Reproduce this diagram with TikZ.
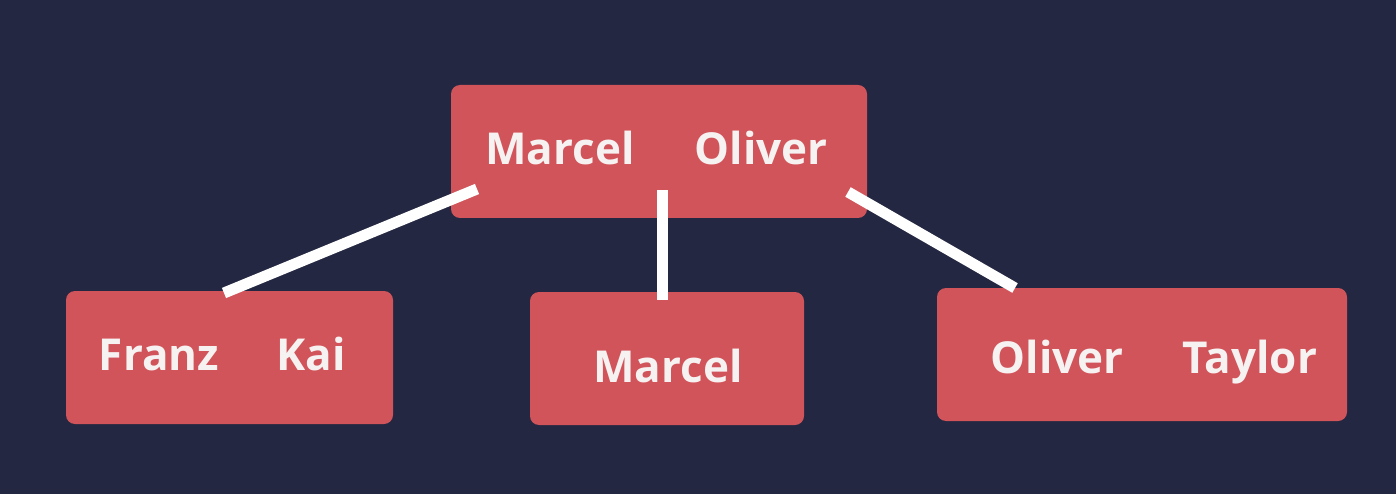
\documentclass[tikz,border=0pt]{standalone}
\usepackage{fontspec}
\setmainfont{Open Sans}
\definecolor{bgnavy}{HTML}{232741}
\definecolor{boxred}{HTML}{D1545A}
\definecolor{txtwhite}{HTML}{F7F2F2}
\tikzset{
  keybox/.style={fill=boxred, draw=none, rounded corners=9pt},
  keytext/.style={text=txtwhite, font=\fontsize{44}{44}\selectfont\bfseries, anchor=base, inner sep=0pt},
  edge/.style={draw=white, line width=11pt}
}
\begin{document}
\begin{tikzpicture}[x=1pt,y=-1pt]
\fill[bgnavy] (0,0) rectangle (1396,494);
\useasboundingbox (0,0) rectangle (1396,494);
% boxes
\node[keybox, minimum width=416pt, minimum height=133pt, inner sep=0pt] (root) at (659,151.5) {};
\node[keybox, minimum width=327pt, minimum height=133pt, inner sep=0pt] (left) at (229.5,357.5) {};
\node[keybox, minimum width=274pt, minimum height=133pt, inner sep=0pt] (mid) at (667,358.5) {};
\node[keybox, minimum width=410pt, minimum height=133pt, inner sep=0pt] (right) at (1142,354.5) {};
% texts
\node[keytext] (t1) at (560,165) {Marcel};
\node[keytext] (t2) at (761,165) {Oliver};
\node[keytext] (t3) at (159,370) {Franz};
\node[keytext] (t4) at (311,370) {Kai};
\node[keytext] (t5) at (668,382) {Marcel};
\node[keytext] (t6) at (1057,373) {Oliver};
\node[keytext] (t7) at (1250,373) {Taylor};
% connector ends
\coordinate (r1) at (477,189);
\coordinate (c1) at (224,293);
\coordinate (r2) at (662,190);
\coordinate (c2) at (662,300);
\coordinate (r3) at (848,192);
\coordinate (c3) at (1015,288);
\draw[edge] (r1) -- (c1);
\draw[edge] (r2) -- (c2);
\draw[edge] (r3) -- (c3);
\end{tikzpicture}
\end{document}
